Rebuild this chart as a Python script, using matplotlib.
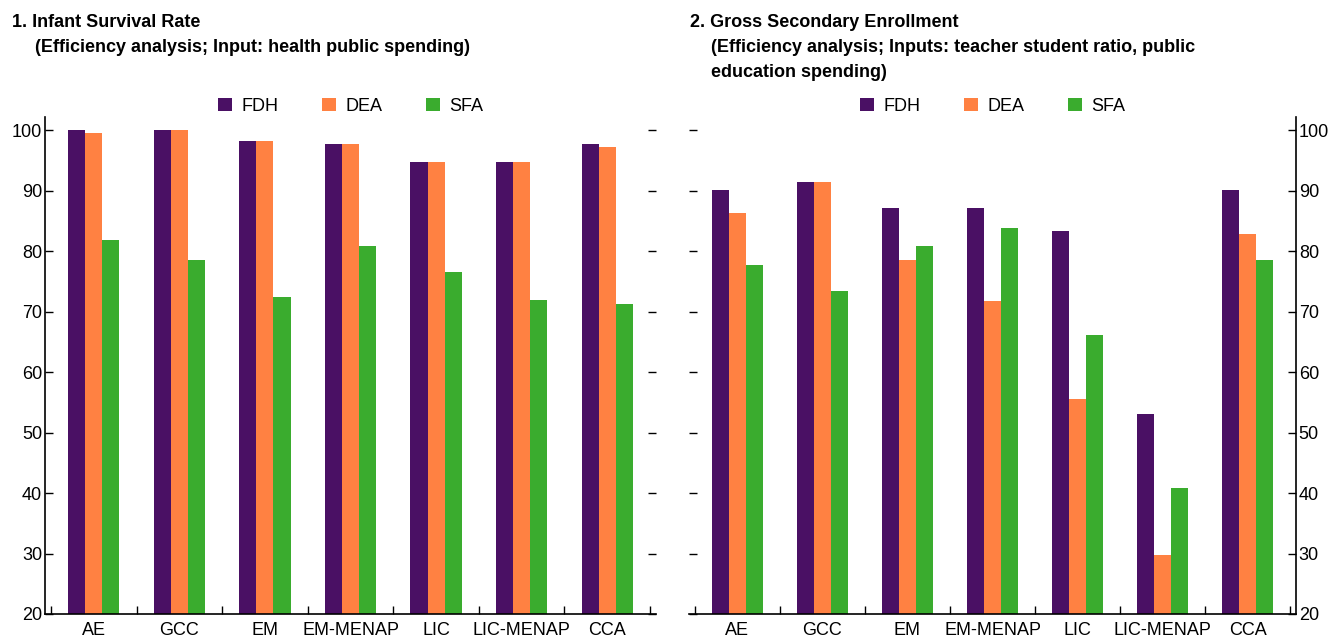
import matplotlib
matplotlib.use("Agg")
import matplotlib.pyplot as plt
import numpy as np

plt.rcParams["font.family"] = ["Liberation Sans", "DejaVu Sans"]

categories = ["AE", "GCC", "EM", "EM-MENAP", "LIC", "LIC-MENAP", "CCA"]
series_names = ["FDH", "DEA", "SFA"]

# panel 1: infant survival rate
infant_fdh = [100.0, 100.0, 98.3, 97.7, 94.7, 94.7, 97.7]
infant_dea = [99.5, 100.0, 98.3, 97.7, 94.7, 94.7, 97.2]
infant_sfa = [81.9, 78.5, 72.5, 80.8, 76.6, 72.0, 71.3]

# panel 2: gross secondary enrollment
enroll_fdh = [90.2, 91.4, 87.1, 87.1, 83.4, 53.1, 90.2]
enroll_dea = [86.4, 91.4, 78.5, 71.7, 55.6, 29.8, 82.8]
enroll_sfa = [77.8, 73.5, 80.9, 83.9, 66.2, 40.9, 78.5]

colors = ["#4a1064", "#ff8142", "#3aac2e"]
yticks = [20, 30, 40, 50, 60, 70, 80, 90, 100]

W, H = 1330, 641
fig = plt.figure(figsize=(W / 100, H / 100), dpi=100)
FS = 13


def draw_panel(rect, series, side):
    ax = fig.add_axes(rect)
    x = np.arange(len(categories))
    width = 0.2
    for i, vals in enumerate(series):
        ax.bar(x + (i - 1) * width, vals, width, color=colors[i],
               label=series_names[i], zorder=2)
    ax.set_xlim(-0.57, len(categories) - 0.43)
    ax.set_ylim(20, 102.2)
    ax.set_yticks(yticks)

    # category labels sit between the boundary ticks
    ax.set_xticks(np.arange(len(categories) + 1) - 0.5)
    ax.set_xticklabels([])
    ax.set_xticks(x, minor=True)
    ax.set_xticklabels(categories, minor=True, fontsize=FS)
    ax.tick_params(axis="x", which="major", direction="in", length=6, width=1)
    ax.tick_params(axis="x", which="minor", length=0, pad=6)

    ax.spines["top"].set_visible(False)
    if side == "left":
        ax.spines["right"].set_visible(False)
        ax.tick_params(axis="y", which="both", left=True, right=True,
                       labelleft=True, labelright=False, direction="in",
                       length=6, width=1, labelsize=FS, pad=2)
    else:
        ax.spines["left"].set_visible(False)
        ax.tick_params(axis="y", which="both", left=True, right=True,
                       labelleft=False, labelright=True, direction="in",
                       length=6, width=1, labelsize=FS, pad=2)
    for s in ["bottom", "left", "right"]:
        ax.spines[s].set_linewidth(1.2)

    ax.legend(loc="lower center", bbox_to_anchor=(0.5, 0.99), ncol=3,
              frameon=False, fontsize=FS, handlelength=0.8, handleheight=0.8,
              columnspacing=2.4, handletextpad=0.5, borderaxespad=0.0)
    return ax


y0 = 1 - 614 / H
y1 = 1 - 117 / H
draw_panel([45 / W, y0, (656 - 45) / W, y1 - y0],
           [infant_fdh, infant_dea, infant_sfa], "left")
draw_panel([689 / W, y0, (1296 - 689) / W, y1 - y0],
           [enroll_fdh, enroll_dea, enroll_sfa], "right")

tkw = dict(fontsize=FS, fontweight="bold", va="baseline", ha="left")
fig.text(12 / W, 1 - 27 / H, "1. Infant Survival Rate", **tkw)
fig.text(35 / W, 1 - 52 / H, "(Efficiency analysis; Input: health public spending)", **tkw)
fig.text(690 / W, 1 - 27 / H, "2. Gross Secondary Enrollment", **tkw)
fig.text(711 / W, 1 - 52 / H, "(Efficiency analysis; Inputs: teacher student ratio, public", **tkw)
fig.text(711 / W, 1 - 77 / H, "education spending)", **tkw)

fig.savefig("out.png", dpi=100, facecolor="white")
